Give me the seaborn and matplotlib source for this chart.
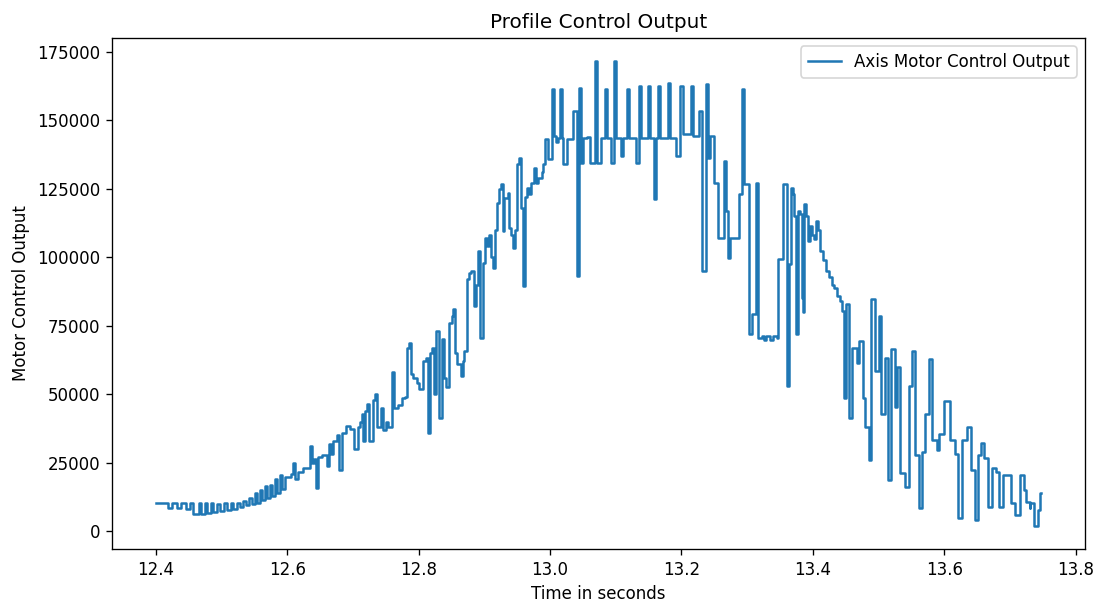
import matplotlib
matplotlib.use("Agg")
import matplotlib.pyplot as plt
import seaborn as sns
import pandas as pd

time_s = [
    12.400, 12.418, 12.424, 12.432, 12.438, 12.446, 12.452, 12.456, 12.466, 12.469,
    12.475, 12.478, 12.484, 12.487, 12.493, 12.498, 12.504, 12.508, 12.515, 12.518,
    12.524, 12.528, 12.533, 12.537, 12.542, 12.547, 12.551, 12.554, 12.559, 12.562,
    12.566, 12.569, 12.574, 12.577, 12.582, 12.585, 12.589, 12.592, 12.597, 12.605,
    12.609, 12.612, 12.617, 12.624, 12.634, 12.637, 12.641, 12.644, 12.647, 12.653,
    12.660, 12.663, 12.666, 12.670, 12.676, 12.679, 12.684, 12.689, 12.696, 12.702,
    12.707, 12.711, 12.714, 12.716, 12.719, 12.722, 12.725, 12.730, 12.734, 12.737,
    12.742, 12.745, 12.751, 12.754, 12.759, 12.760, 12.763, 12.769, 12.774, 12.779,
    12.783, 12.785, 12.788, 12.792, 12.798, 12.800, 12.806, 12.811, 12.814, 12.817,
    12.820, 12.824, 12.827, 12.831, 12.835, 12.838, 12.841, 12.846, 12.850, 12.853,
    12.855, 12.859, 12.864, 12.867, 12.869, 12.873, 12.876, 12.880, 12.884, 12.887,
    12.890, 12.893, 12.898, 12.901, 12.904, 12.907, 12.910, 12.913, 12.916, 12.919,
    12.922, 12.925, 12.928, 12.930, 12.936, 12.937, 12.940, 12.943, 12.947, 12.950,
    12.953, 12.956, 12.959, 12.962, 12.965, 12.968, 12.971, 12.976, 12.979, 12.982,
    12.987, 12.989, 12.992, 12.997, 13.003, 13.006, 13.009, 13.012, 13.015, 13.018,
    13.020, 13.026, 13.035, 13.041, 13.044, 13.047, 13.050, 13.056, 13.061, 13.069,
    13.072, 13.078, 13.084, 13.087, 13.093, 13.098, 13.101, 13.108, 13.111, 13.117,
    13.120, 13.131, 13.135, 13.139, 13.149, 13.152, 13.158, 13.161, 13.165, 13.168,
    13.179, 13.182, 13.192, 13.198, 13.202, 13.214, 13.217, 13.227, 13.232, 13.237,
    13.241, 13.244, 13.250, 13.256, 13.265, 13.268, 13.271, 13.274, 13.288, 13.292,
    13.295, 13.303, 13.307, 13.313, 13.316, 13.322, 13.325, 13.329, 13.334, 13.339,
    13.345, 13.347, 13.354, 13.360, 13.364, 13.366, 13.369, 13.372, 13.374, 13.375,
    13.377, 13.380, 13.383, 13.385, 13.386, 13.389, 13.392, 13.395, 13.398, 13.401,
    13.405, 13.408, 13.411, 13.415, 13.420, 13.424, 13.429, 13.432, 13.436, 13.441,
    13.444, 13.447, 13.450, 13.455, 13.460, 13.467, 13.470, 13.476, 13.479, 13.486,
    13.489, 13.495, 13.501, 13.504, 13.510, 13.515, 13.519, 13.525, 13.528, 13.533,
    13.540, 13.547, 13.551, 13.556, 13.562, 13.566, 13.571, 13.577, 13.582, 13.589,
    13.592, 13.600, 13.608, 13.617, 13.621, 13.627, 13.634, 13.640, 13.646, 13.652,
    13.656, 13.661, 13.666, 13.672, 13.678, 13.684, 13.689, 13.701, 13.707, 13.716,
    13.722, 13.724, 13.730, 13.731, 13.737, 13.742, 13.745, 13.747,
]

motor_output = [
    10500, 8500, 10500, 8500, 10500, 8000, 10500, 6200, 10500, 6200,
    10500, 6800, 10500, 7000, 10000, 7500, 10500, 7800, 10500, 8000,
    10500, 9000, 11000, 9500, 12000, 10000, 14000, 10500, 15000, 11500,
    16500, 12000, 17000, 13000, 19000, 14000, 20500, 15500, 20000, 21000,
    25000, 19000, 21500, 23000, 31000, 25000, 26500, 15700, 27000, 28000,
    24000, 32000, 28400, 33000, 35000, 22200, 36000, 38600, 37500, 30000,
    38000, 40000, 43000, 33000, 44000, 46600, 33000, 48000, 50300, 38000,
    45000, 36800, 40000, 38000, 56000, 58000, 45000, 46000, 48800, 49000,
    67000, 68900, 57600, 56000, 54000, 52000, 62000, 63400, 36000, 65000,
    67000, 50000, 73200, 41500, 70300, 56000, 52500, 76000, 78700, 81300,
    65200, 61000, 56800, 62000, 66000, 92000, 94400, 95100, 82400, 90000,
    102400, 70700, 98000, 107000, 104000, 108000, 100000, 96000, 110000, 120000,
    125000, 126800, 109700, 121700, 123500, 110800, 108000, 103500, 110000, 134100,
    136300, 118000, 89600, 122000, 125400, 123200, 127000, 132600, 127000, 129000,
    131000, 134100, 143200, 136000, 161400, 144300, 142000, 143600, 161400, 143600,
    134100, 143200, 153400, 93300, 161800, 134500, 143600, 144000, 134500, 171600,
    134500, 143600, 161400, 143600, 134500, 171600, 143600, 137000, 143600, 161400,
    143600, 134500, 162500, 143600, 162500, 143600, 121300, 143600, 162500, 143600,
    163600, 143600, 137000, 162500, 145000, 162500, 144300, 153400, 95100, 163200,
    136300, 144300, 127200, 107100, 135200, 117000, 99800, 107100, 123200, 161400,
    126800, 72100, 79400, 127200, 70700, 71400, 70000, 71400, 70000, 71400,
    70700, 99500, 126800, 53200, 97700, 125400, 123200, 115000, 80000, 72100,
    117000, 115900, 85300, 80000, 119500, 115000, 106000, 111500, 108000, 106800,
    113300, 110000, 102400, 99000, 95100, 93000, 90000, 88900, 86000, 84200,
    80500, 48800, 83100, 41500, 67000, 61600, 69600, 48800, 37900, 25900,
    84900, 58700, 78700, 43000, 63400, 18600, 66700, 45200, 59800, 21100,
    16000, 53200, 66000, 27700, 8400, 28800, 43000, 63000, 33200, 29500,
    35700, 47700, 33200, 28400, 4700, 33200, 37900, 22200, 4000, 27700,
    32400, 26600, 8700, 23000, 21500, 8700, 20400, 10200, 5800, 20400,
    14900, 10600, 8400, 10200, 2000, 7700, 13800, 13800,
]

series_label = "Axis Motor Control Output"
title = "Profile Control Output"
x_label = "Time in seconds"
y_label = "Motor Control Output"

df = pd.DataFrame({"time": time_s, "output": motor_output})

DPI = 120
fig = plt.figure(figsize=(1105 / DPI, 604 / DPI), dpi=DPI)
ax = fig.add_axes([0.101, 0.091, 0.881, 0.846])

sns.lineplot(data=df, x="time", y="output", ax=ax, estimator=None,
             drawstyle="steps-post", color="#1f77b4", linewidth=1.5,
             label=series_label)

ax.set_title(title)
ax.set_xlabel(x_label)
ax.set_ylabel(y_label)
ax.legend(loc="upper right")

fig.savefig("out.png", dpi=DPI)
